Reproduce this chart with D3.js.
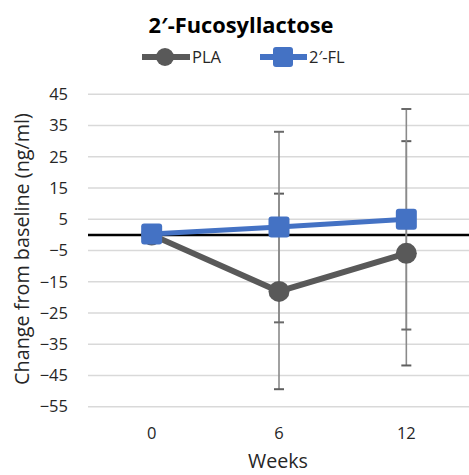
<!DOCTYPE html>
<html>
<head>
<meta charset="utf-8">
<script src="https://cdn.jsdelivr.net/npm/d3@7/dist/d3.min.js"></script>
<style>
  html, body { margin: 0; padding: 0; background: #fff; }
  svg { display: block; font-family: "Open Sans", sans-serif; }
</style>
</head>
<body>
<svg id="chart" width="469" height="475"></svg>
<script>
// ---- data ----
const weeks = ["0", "6", "12"];
const seriesNames = ["PLA", "2\u2032-FL"];
const plaValues = [0, -18.1, -5.9];
const flValues = [0.3, 2.5, 5.0];
const plaErr = [0, 31.3, 35.9];
const flErr = [0, 30.5, 35.3];
const yTicks = [45, 35, 25, 15, 5, -5, -15, -25, -35, -45, -55];
const titleText = "2\u2032-Fucosyllactose";
const xTitle = "Weeks";
const yTitle = "Change from baseline (ng/ml)";

// ---- setup ----
const svg = d3.select("#chart");
const grey = "#595959", blue = "#4472c4";

const x = d3.scaleBand().domain(weeks).range([88, 470]);
const xc = d => x(d) + x.bandwidth() / 2;
const y = d3.scaleLinear().domain([-55, 45]).range([406.7, 94.3]);

function fit(sel, target) {
  const len = sel.node().getComputedTextLength();
  const fs = parseFloat(sel.attr("font-size"));
  sel.attr("font-size", (fs * target / len).toFixed(2));
}

// gridlines
svg.append("g").selectAll("line").data(yTicks).join("line")
  .attr("x1", 88).attr("x2", 469)
  .attr("y1", d => y(d)).attr("y2", d => y(d))
  .attr("stroke", "#d9d9d9").attr("stroke-width", 1.5);

// y axis (labels only)
const yAxis = d3.axisLeft(y).tickValues(yTicks).tickSize(0).tickPadding(0).tickFormat(d3.format("d"));
const yg = svg.append("g").attr("transform", "translate(68,0)").call(yAxis);
yg.select(".domain").remove();
yg.selectAll("text").attr("font-size", 16.5).attr("font-family", "Open Sans").attr("fill", "#262626");

// x axis labels
const xAxis = d3.axisBottom(x).tickSize(0).tickPadding(0);
const xg = svg.append("g").attr("transform", "translate(0,427)").call(xAxis);
xg.select(".domain").remove();
xg.selectAll("text").attr("font-size", 16.5).attr("font-family", "Open Sans").attr("fill", "#262626");

// zero line
svg.append("line").attr("x1", 88).attr("x2", 469)
  .attr("y1", y(0)).attr("y2", y(0)).attr("stroke", "#000").attr("stroke-width", 2.5);

// error bars
function errBars(vals, errs, capColor) {
  const g = svg.append("g");
  weeks.forEach((w, i) => {
    if (!errs[i]) return;
    const cx = xc(w), hi = y(vals[i] + errs[i]), lo = y(vals[i] - errs[i]);
    g.append("line").attr("x1", cx).attr("x2", cx).attr("y1", hi).attr("y2", lo)
      .attr("stroke", "#8a8a8a").attr("stroke-width", 1.6);
    [hi, lo].forEach(yy => g.append("line").attr("x1", cx - 5).attr("x2", cx + 5)
      .attr("y1", yy).attr("y2", yy).attr("stroke", capColor).attr("stroke-width", 2));
  });
}
errBars(plaValues, plaErr, "#5f5f5f");
errBars(flValues, flErr, "#6a6a6a");

const line = d3.line().x((d, i) => xc(weeks[i])).y(d => y(d));

// PLA series
svg.append("path").datum(plaValues).attr("d", line)
  .attr("fill", "none").attr("stroke", grey).attr("stroke-width", 6).attr("stroke-linejoin", "round");
svg.append("g").selectAll("circle").data(plaValues).join("circle")
  .attr("cx", (d, i) => xc(weeks[i])).attr("cy", d => y(d)).attr("r", 10.5).attr("fill", grey);

// 2'-FL series
svg.append("path").datum(flValues).attr("d", line)
  .attr("fill", "none").attr("stroke", blue).attr("stroke-width", 5).attr("stroke-linejoin", "round");
svg.append("g").selectAll("rect").data(flValues).join("rect")
  .attr("x", (d, i) => xc(weeks[i]) - 10.5).attr("y", d => y(d) - 10.5)
  .attr("width", 21).attr("height", 21).attr("rx", 3).attr("fill", blue);

// title
const t = svg.append("text").attr("x", 241).attr("y", 32.7).attr("text-anchor", "middle")
  .attr("font-size", 18).attr("font-weight", "bold").attr("fill", "#000").text(titleText);
fit(t, 185);

// legend
const legY = 57;
const lg = svg.append("g");
lg.append("line").attr("x1", 142).attr("x2", 190).attr("y1", legY).attr("y2", legY)
  .attr("stroke", grey).attr("stroke-width", 6);
lg.append("circle").attr("cx", 165).attr("cy", legY).attr("r", 9).attr("fill", grey);
lg.append("text").attr("x", 192).attr("y", legY).attr("dy", "0.36em")
  .attr("font-size", 16.5).attr("fill", "#262626").text(seriesNames[0]);
lg.append("line").attr("x1", 260).attr("x2", 307).attr("y1", legY).attr("y2", legY)
  .attr("stroke", blue).attr("stroke-width", 6);
lg.append("rect").attr("x", 283 - 10).attr("y", legY - 10).attr("width", 20).attr("height", 20)
  .attr("rx", 3).attr("fill", blue);
lg.append("text").attr("x", 309).attr("y", legY).attr("dy", "0.36em")
  .attr("font-size", 16.5).attr("fill", "#262626").text(seriesNames[1]);

// axis titles
const xt = svg.append("text").attr("x", 278).attr("y", 468).attr("text-anchor", "middle")
  .attr("font-size", 18).attr("fill", "#262626").text(xTitle);
fit(xt, 60);
const yt = svg.append("text").attr("transform", "translate(29,249) rotate(-90)")
  .attr("text-anchor", "middle").attr("font-size", 18).attr("fill", "#262626").text(yTitle);
fit(yt, 272);
</script>
</body>
</html>
